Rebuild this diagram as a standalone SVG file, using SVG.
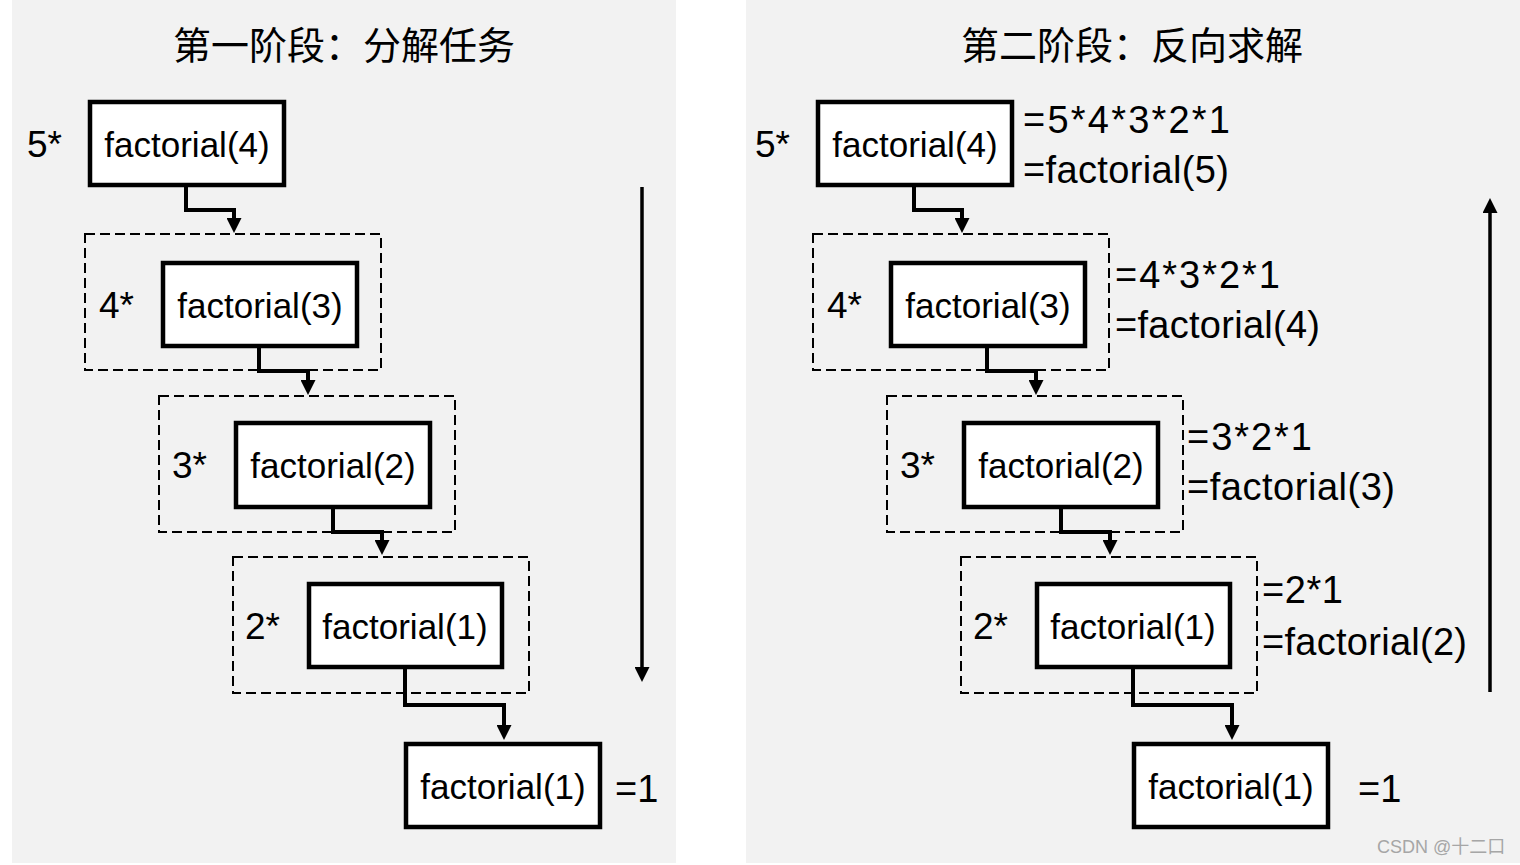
<svg xmlns="http://www.w3.org/2000/svg" width="1520" height="865" viewBox="0 0 1520 865">
<style>
.panel{fill:#f2f2f2}
.box{fill:#fff;stroke:#000;stroke-width:4.5}
.dash{fill:none;stroke:#000;stroke-width:2;stroke-dasharray:10 5}
.lbl{font-family:"Liberation Sans",Arial,sans-serif;font-size:35px;fill:#000}
.mul{font-family:"Liberation Sans",Arial,sans-serif;font-size:37px;fill:#000}
.ctr{text-anchor:middle}
.eq{font-family:"Liberation Sans",Arial,sans-serif;font-size:38px;fill:#000}
.title{font-family:"Noto Sans CJK SC","Noto Sans",sans-serif;font-size:38px;fill:#000;text-anchor:middle}
.conn{fill:none;stroke:#000;stroke-width:4;stroke-linejoin:miter}
.long{fill:none;stroke:#000;stroke-width:3.5}
.wm{font-family:"Liberation Sans","Noto Sans CJK SC",sans-serif;font-size:18px;fill:#a6a6a6}
</style>
<defs>
<marker id="ah" markerUnits="userSpaceOnUse" markerWidth="15" markerHeight="15" viewBox="0 0 15 15" refX="1" refY="7.5" orient="auto"><path d="M0,0 L15,7.5 L0,15 z" fill="#000"/></marker>
</defs>
<rect width="1520" height="865" fill="#fff"/>
<rect class="panel" x="12" y="0" width="664" height="863"/>
<rect class="panel" x="746" y="0" width="774" height="863"/>

<g id="title-left"><text class="title" x="344" y="59">第一阶段：分解任务</text></g>
<g id="title-right"><text class="title" x="1132" y="59">第二阶段：反向求解</text></g>

<!-- Left panel -->
<g id="L-group1"><rect class="dash" x="85" y="234" width="296" height="136"/></g>
<g id="L-group2"><rect class="dash" x="159" y="396" width="296" height="136"/></g>
<g id="L-group3"><rect class="dash" x="233" y="557" width="296" height="136"/></g>

<g id="L-f4"><rect class="box" x="90" y="102" width="194" height="83"/><text class="lbl ctr" x="187" y="157">factorial(4)</text><text class="mul" x="27" y="157">5*</text></g>
<g id="L-f3"><rect class="box" x="163" y="263" width="194" height="83"/><text class="lbl ctr" x="260" y="318">factorial(3)</text><text class="mul" x="99" y="318">4*</text></g>
<g id="L-f2"><rect class="box" x="236" y="423" width="194" height="84"/><text class="lbl ctr" x="333" y="478">factorial(2)</text><text class="mul" x="172" y="478">3*</text></g>
<g id="L-f1a"><rect class="box" x="309" y="584" width="193" height="83"/><text class="lbl ctr" x="405" y="639">factorial(1)</text><text class="mul" x="245" y="639">2*</text></g>
<g id="L-f1b"><rect class="box" x="406" y="744" width="194" height="83"/><text class="lbl ctr" x="503" y="799">factorial(1)</text><text class="eq" x="615" y="802">=1</text></g>

<!-- Right panel -->
<g id="R-group1"><rect class="dash" x="813" y="234" width="296" height="136"/></g>
<g id="R-group2"><rect class="dash" x="887" y="396" width="296" height="136"/></g>
<g id="R-group3"><rect class="dash" x="961" y="557" width="296" height="136"/></g>

<g id="R-f4"><rect class="box" x="818" y="102" width="194" height="83"/><text class="lbl ctr" x="915" y="157">factorial(4)</text><text class="mul" x="755" y="157">5*</text>
<text class="eq" x="1023" y="133" textLength="207">=5*4*3*2*1</text><text class="eq" x="1023" y="183" textLength="206">=factorial(5)</text></g>
<g id="R-f3"><rect class="box" x="891" y="263" width="194" height="83"/><text class="lbl ctr" x="988" y="318">factorial(3)</text><text class="mul" x="827" y="318">4*</text>
<text class="eq" x="1115" y="288" textLength="165">=4*3*2*1</text><text class="eq" x="1115" y="338" textLength="205">=factorial(4)</text></g>
<g id="R-f2"><rect class="box" x="964" y="423" width="194" height="84"/><text class="lbl ctr" x="1061" y="478">factorial(2)</text><text class="mul" x="900" y="478">3*</text>
<text class="eq" x="1187" y="450" textLength="125">=3*2*1</text><text class="eq" x="1187" y="500" textLength="208">=factorial(3)</text></g>
<g id="R-f1a"><rect class="box" x="1037" y="584" width="193" height="83"/><text class="lbl ctr" x="1133" y="639">factorial(1)</text><text class="mul" x="973" y="639">2*</text>
<text class="eq" x="1262" y="603" textLength="81">=2*1</text><text class="eq" x="1262" y="655" textLength="205">=factorial(2)</text></g>
<g id="R-f1b"><rect class="box" x="1134" y="744" width="194" height="83"/><text class="lbl ctr" x="1231" y="799">factorial(1)</text><text class="eq" x="1358" y="802">=1</text></g>

<g id="connectors">
<path class="conn" d="M186,187 V210 H234 V219" marker-end="url(#ah)"/>
<path class="conn" d="M259,348 V371 H308 V381" marker-end="url(#ah)"/>
<path class="conn" d="M333,509 V532 H382 V541" marker-end="url(#ah)"/>
<path class="conn" d="M405,669 V705 H504 V726" marker-end="url(#ah)"/>
<path class="long" d="M642,187 V668" marker-end="url(#ah)"/>
<path class="conn" d="M914,187 V210 H962 V219" marker-end="url(#ah)"/>
<path class="conn" d="M987,348 V371 H1036 V381" marker-end="url(#ah)"/>
<path class="conn" d="M1061,509 V532 H1110 V541" marker-end="url(#ah)"/>
<path class="conn" d="M1133,669 V705 H1232 V726" marker-end="url(#ah)"/>
<path class="long" d="M1490,692 V212" marker-end="url(#ah)"/>
</g>

<text class="wm" x="1377" y="853">CSDN @十二口</text>
</svg>
